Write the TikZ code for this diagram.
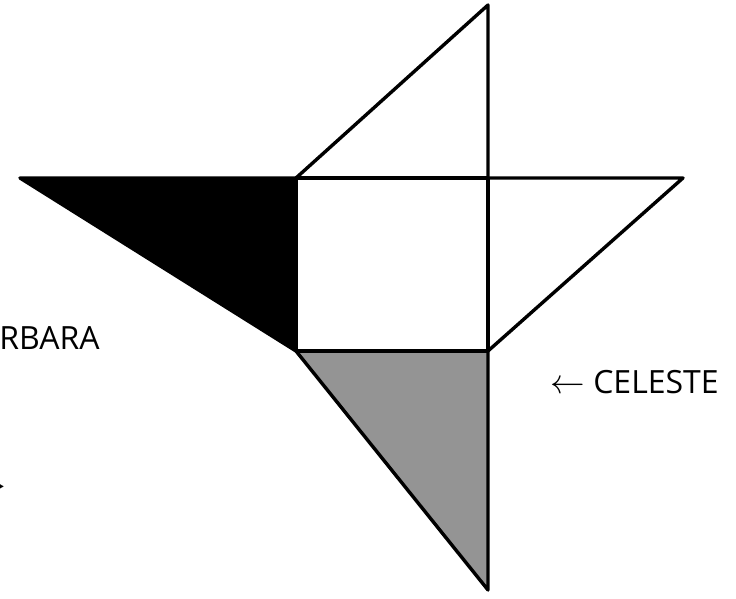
\documentclass[tikz,border=0pt]{standalone}
\usepackage{fontspec}
\setmainfont{Open Sans}
\usetikzlibrary{positioning}

\begin{document}
\begin{tikzpicture}[x=0.5pt, y=-0.5pt,
    piece/.style={draw=black, line width=1.7pt, line join=round},
    darkpiece/.style={piece, fill=black},
    greypiece/.style={piece, fill=black!42},
    tag/.style={font=\fontsize{16}{18}\selectfont, inner sep=0pt}
]
\useasboundingbox (0,0) rectangle (736,599);

% Corners of the square and the outer tips
\coordinate (tl) at (296,178);
\coordinate (tr) at (488,178);
\coordinate (br) at (488,351);
\coordinate (bl) at (296,351);
\coordinate (top) at (488,5);
\coordinate (right) at (683,178);
\coordinate (left) at (20,178);
\coordinate (bottom) at (488,590);

% Shaded pieces
\filldraw[darkpiece] (left) -- (tl) -- (bl) -- cycle;
\filldraw[greypiece] (bl) -- (br) -- (bottom) -- cycle;

% White pieces
\draw[piece] (tl) -- (tr) -- (br) -- (bl) -- cycle;
\draw[piece] (tl) -- (top) -- (tr) -- cycle;
\draw[piece] (tr) -- (right) -- (br) -- cycle;

% Names
\node[tag, anchor=base east] (barbara) at (100,350) {BARBARA};
\node[tag, anchor=base west] (celeste) at (550,394) {$\leftarrow$ CELESTE};
\node[tag, anchor=east] (pointer) at (6,489) {$\rightarrow$};

\end{tikzpicture}
\end{document}
